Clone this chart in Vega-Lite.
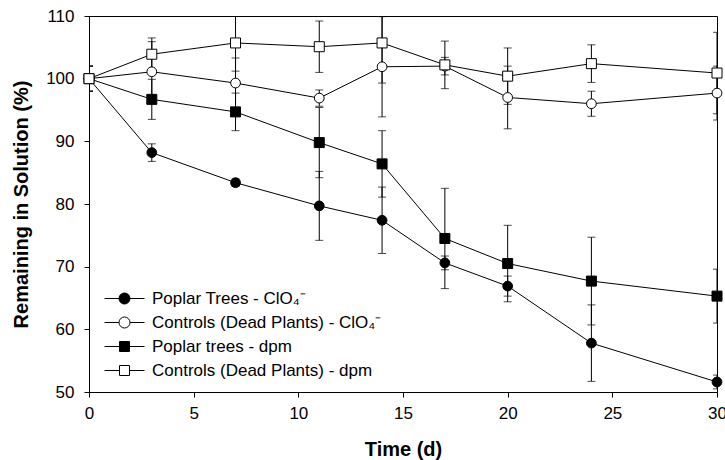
{
  "$schema": "https://vega.github.io/schema/vega-lite/v6.json",
  "width": 628,
  "height": 376,
  "autosize": {"type": "none"},
  "padding": {"left": 89, "top": 16, "right": 8, "bottom": 68},
  "background": "white",
  "config": {
    "font": "Liberation Sans",
    "view": {"stroke": "black", "strokeWidth": 1},
    "axis": {
      "grid": false,
      "domainColor": "black",
      "tickColor": "black",
      "labelColor": "black",
      "titleColor": "black",
      "labelFont": "Liberation Sans",
      "titleFont": "Liberation Sans",
      "labelFontSize": 17,
      "titleFontSize": 20,
      "titleFontWeight": "bold",
      "tickSize": 5,
      "labelFlush": false,
      "labelOverlap": false
    },
    "legend": {
      "labelFont": "Liberation Sans",
      "labelFontSize": 17,
      "labelColor": "black",
      "labelLimit": 400
    }
  },
  "data": {
    "values": [
      {"series": "Poplar Trees - ClO₄⁻", "day": 0, "value": 100, "err": 2},
      {"series": "Poplar Trees - ClO₄⁻", "day": 3, "value": 88.2, "err": 1.4},
      {"series": "Poplar Trees - ClO₄⁻", "day": 7, "value": 83.4, "err": 0.6},
      {"series": "Poplar Trees - ClO₄⁻", "day": 11, "value": 79.7, "err": 5.5},
      {"series": "Poplar Trees - ClO₄⁻", "day": 14, "value": 77.4, "err": 5.3},
      {"series": "Poplar Trees - ClO₄⁻", "day": 17, "value": 70.6, "err": 1.1},
      {"series": "Poplar Trees - ClO₄⁻", "day": 20, "value": 66.9, "err": 1.6},
      {"series": "Poplar Trees - ClO₄⁻", "day": 24, "value": 57.8, "err": 6.1},
      {"series": "Poplar Trees - ClO₄⁻", "day": 30, "value": 51.6, "err": 1.1},

      {"series": "Controls (Dead Plants) - ClO₄⁻", "day": 0, "value": 100, "err": 2},
      {"series": "Controls (Dead Plants) - ClO₄⁻", "day": 3, "value": 101.1, "err": 4.8},
      {"series": "Controls (Dead Plants) - ClO₄⁻", "day": 7, "value": 99.3, "err": 4},
      {"series": "Controls (Dead Plants) - ClO₄⁻", "day": 11, "value": 96.9, "err": 1.3},
      {"series": "Controls (Dead Plants) - ClO₄⁻", "day": 14, "value": 101.9, "err": 8},
      {"series": "Controls (Dead Plants) - ClO₄⁻", "day": 17, "value": 102.0, "err": 1.4},
      {"series": "Controls (Dead Plants) - ClO₄⁻", "day": 20, "value": 97.0, "err": 5},
      {"series": "Controls (Dead Plants) - ClO₄⁻", "day": 24, "value": 96.0, "err": 2},
      {"series": "Controls (Dead Plants) - ClO₄⁻", "day": 30, "value": 97.7, "err": 4.3},

      {"series": "Poplar trees - dpm", "day": 0, "value": 100, "err": 2},
      {"series": "Poplar trees - dpm", "day": 3, "value": 96.7, "err": 3.2},
      {"series": "Poplar trees - dpm", "day": 7, "value": 94.7, "err": 3},
      {"series": "Poplar trees - dpm", "day": 11, "value": 89.8, "err": 5.6},
      {"series": "Poplar trees - dpm", "day": 14, "value": 86.4, "err": 5.3},
      {"series": "Poplar trees - dpm", "day": 17, "value": 74.5, "err": 8},
      {"series": "Poplar trees - dpm", "day": 20, "value": 70.5, "err": 6.1},
      {"series": "Poplar trees - dpm", "day": 24, "value": 67.7, "err": 7},
      {"series": "Poplar trees - dpm", "day": 30, "value": 65.3, "err": 4.3},

      {"series": "Controls (Dead Plants) - dpm", "day": 0, "value": 100, "err": 2},
      {"series": "Controls (Dead Plants) - dpm", "day": 3, "value": 103.9, "err": 2.6},
      {"series": "Controls (Dead Plants) - dpm", "day": 7, "value": 105.7, "err": 4.5},
      {"series": "Controls (Dead Plants) - dpm", "day": 11, "value": 105.1, "err": 4.1},
      {"series": "Controls (Dead Plants) - dpm", "day": 14, "value": 105.7, "err": 6.4},
      {"series": "Controls (Dead Plants) - dpm", "day": 17, "value": 102.2, "err": 3.8},
      {"series": "Controls (Dead Plants) - dpm", "day": 20, "value": 100.4, "err": 4.5},
      {"series": "Controls (Dead Plants) - dpm", "day": 24, "value": 102.4, "err": 3},
      {"series": "Controls (Dead Plants) - dpm", "day": 30, "value": 100.9, "err": 6.5}
    ]
  },
  "encoding": {
    "x": {
      "field": "day",
      "type": "quantitative",
      "title": "Time (d)",
      "scale": {"domain": [0, 30], "nice": false},
      "axis": {"values": [0, 5, 10, 15, 20, 25, 30], "labelPadding": 8, "titlePadding": 18}
    },
    "y": {
      "field": "value",
      "type": "quantitative",
      "title": "Remaining in Solution (%)",
      "scale": {"domain": [50, 110], "nice": false, "zero": false},
      "axis": {"values": [50, 60, 70, 80, 90, 100, 110], "labelPadding": 10, "titlePadding": 14}
    },
    "fill": {
      "field": "series",
      "type": "nominal",
      "title": null,
      "scale": {
        "domain": ["Poplar Trees - ClO₄⁻", "Controls (Dead Plants) - ClO₄⁻", "Poplar trees - dpm", "Controls (Dead Plants) - dpm"],
        "range": ["black", "white", "black", "white"]
      }
    },
    "stroke": {
      "field": "series",
      "type": "nominal",
      "title": null,
      "scale": {
        "domain": ["Poplar Trees - ClO₄⁻", "Controls (Dead Plants) - ClO₄⁻", "Poplar trees - dpm", "Controls (Dead Plants) - dpm"],
        "range": ["black", "black", "black", "black"]
      }
    }
  },
  "layer": [
    {
      "mark": {
        "type": "errorbar",
        "clip": true,
        "rule": {"color": "black", "strokeWidth": 1},
        "ticks": {"color": "black", "size": 8, "thickness": 1}
      },
      "encoding": {
        "yError": {"field": "err"},
        "detail": {"field": "series"},
        "fill": null,
        "stroke": null
      }
    },
    {
      "mark": {"type": "line", "color": "black", "strokeWidth": 1},
      "encoding": {
        "detail": {"field": "series"},
        "fill": null,
        "stroke": null
      }
    },
    {
      "transform": [{"filter": "indexof(datum.series, 'ClO') >= 0"}],
      "mark": {"type": "point", "shape": "circle", "filled": true, "strokeWidth": 1, "opacity": 1, "size": 95}
    },
    {
      "transform": [{"filter": "indexof(datum.series, 'ClO') < 0"}],
      "mark": {"type": "point", "shape": "square", "filled": true, "strokeWidth": 1, "opacity": 1, "size": 100}
    },
    {
      "transform": [{"filter": "false"}],
      "mark": {"type": "point", "filled": true, "strokeWidth": 1, "opacity": 1, "size": 144},
      "encoding": {
        "shape": {
          "field": "series",
          "type": "nominal",
          "title": null,
          "scale": {
            "domain": ["Poplar Trees - ClO₄⁻", "Controls (Dead Plants) - ClO₄⁻", "Poplar trees - dpm", "Controls (Dead Plants) - dpm"],
            "range": [
              "M-1,0H1.416M3.25,0H5.667M1.416,0A0.917,0.917 0 1,0 3.25,0A0.917,0.917 0 1,0 1.416,0Z",
              "M-1,0H1.416M3.25,0H5.667M1.416,0A0.917,0.917 0 1,0 3.25,0A0.917,0.917 0 1,0 1.416,0Z",
              "M-1,0H1.5M3.166,0H5.667M1.5,-0.833H3.166V0.833H1.5Z",
              "M-1,0H1.5M3.166,0H5.667M1.5,-0.833H3.166V0.833H1.5Z"
            ]
          },
          "legend": {
            "orient": "bottom-left",
            "offset": 13,
            "symbolSize": 144,
            "symbolStrokeWidth": 1,
            "rowPadding": 6,
            "labelOffset": 33
          }
        }
      }
    }
  ]
}
